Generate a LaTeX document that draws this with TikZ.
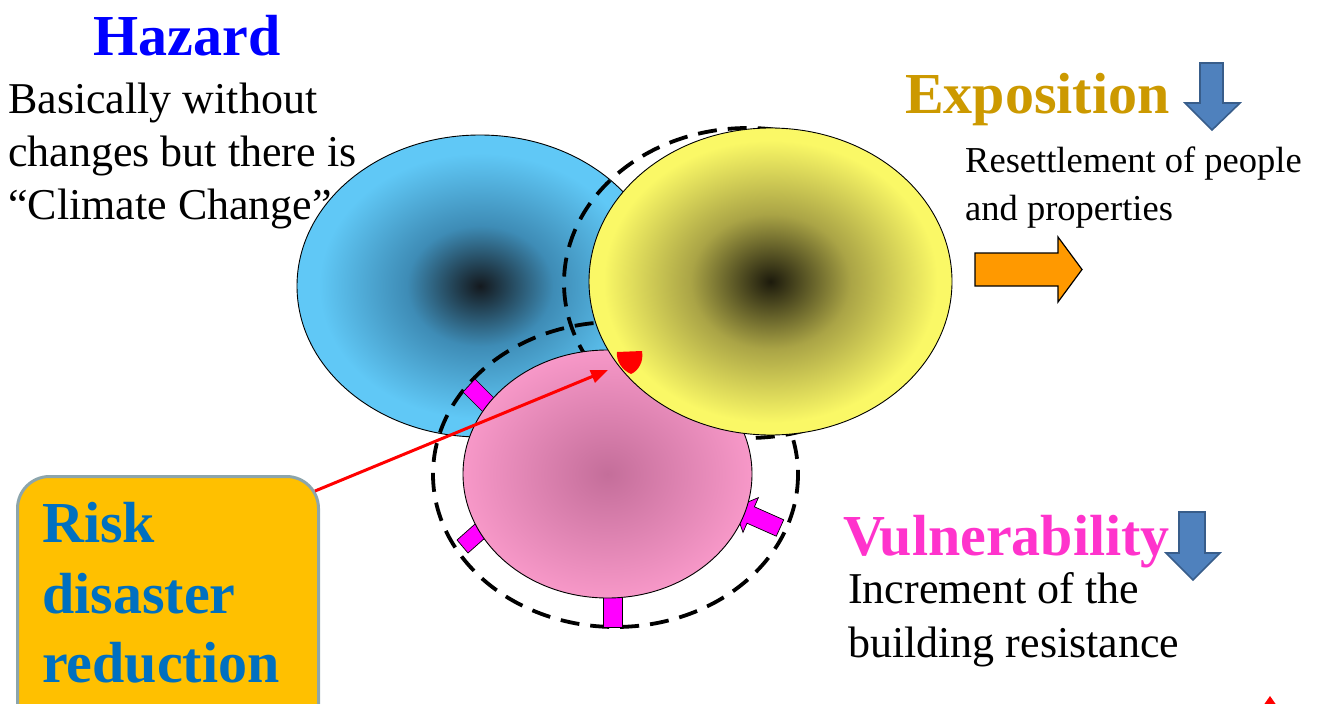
\documentclass[tikz,border=0pt]{standalone}
\usepackage{fontspec}
\setmainfont{Liberation Serif}
\usetikzlibrary{arrows.meta,shapes.geometric}

% text and line colours
\definecolor{hazardblue}{RGB}{0,0,255}
\definecolor{expogold}{RGB}{204,153,0}
\definecolor{vulnpink}{RGB}{255,51,204}
\definecolor{riskblue}{RGB}{0,112,192}
\definecolor{riskfill}{RGB}{255,192,0}
\definecolor{riskedge}{RGB}{140,165,172}
\definecolor{tabmagenta}{RGB}{255,0,255}
\definecolor{arrowblue}{RGB}{79,129,189}
\definecolor{arrowblueedge}{RGB}{56,93,138}
\definecolor{pushorange}{RGB}{255,153,0}

% gradient colours of the three circles
\definecolor{hzout}{RGB}{96,200,246}
\definecolor{hzmid}{RGB}{62,140,182}
\definecolor{hzin}{RGB}{20,25,30}
\definecolor{exout}{RGB}{250,248,102}
\definecolor{exmid}{RGB}{170,164,70}
\definecolor{exin}{RGB}{28,26,12}
\definecolor{vuout}{RGB}{247,152,200}
\definecolor{vuin}{RGB}{196,110,154}

\pgfdeclareradialshading{hazardglow}{\pgfpoint{0bp}{0bp}}{color(0bp)=(hzin); color(10bp)=(hzmid); color(22bp)=(hzout); color(50bp)=(hzout)}
\pgfdeclareradialshading{expoglow}{\pgfpoint{0bp}{0bp}}{color(0bp)=(exin); color(11bp)=(exmid); color(23bp)=(exout); color(50bp)=(exout)}
\pgfdeclareradialshading{vulnglow}{\pgfpoint{0bp}{0bp}}{color(0bp)=(vuin); color(25bp)=(vuout); color(50bp)=(vuout)}

\tikzset{
  blob/.style={ellipse, draw=black, line width=0.9pt, inner sep=0pt, shade},
  ring/.style={draw=black, line width=3.8pt, dash pattern=on 19pt off 11pt},
  tab/.style={fill=tabmagenta, draw=black, line width=0.7pt},
  title/.style={font=\fontsize{58}{60}\selectfont\bfseries, inner sep=0pt},
  bodytext/.style={font=\fontsize{44}{50}\selectfont, inner sep=0pt, anchor=base west},
  smalltext/.style={font=\fontsize{36.5}{40}\selectfont, inner sep=0pt, anchor=base west},
  risktext/.style={font=\fontsize{58}{60}\selectfont\bfseries, text=riskblue, inner sep=0pt, anchor=base west},
  downarrow/.style={fill=arrowblue, draw=arrowblueedge, line width=1.6pt, line join=miter},
  riskbox/.style={draw=riskedge, line width=3pt, fill=riskfill, rounded corners=32pt,
    minimum width=301pt, minimum height=262pt, anchor=north west, inner sep=0pt},
}

\begin{document}
\begin{tikzpicture}[x=1pt, y=-1pt]
\useasboundingbox (0,0) rectangle (1317,704);

% hazard heading and description
\node[title, text=hazardblue, anchor=base] (hzhead) at (187,55) {Hazard};
\node[bodytext] (hz1) at (8,113) {Basically without};
\node[bodytext] (hz2) at (8,166) {changes but there is};
\node[bodytext] (hz3) at (8,219) {“Climate Change”};

% hazard circle
\node[blob, shading=hazardglow, minimum width=366pt, minimum height=302pt] (hazard) at (480,286) {};

% dashed rings around exposition and vulnerability
\draw[ring] (748,283) ellipse [x radius=184, y radius=155];
\draw[ring] (615.5,474.5) ellipse [x radius=182.5, y radius=152.5];

% reinforcing tabs round the vulnerability circle
\draw[tab] (463,392) -- (475,379) -- (500,404) -- (488,417) -- cycle;
\draw[tab] (457,540) -- (468,553) -- (494,530) -- (483,517) -- cycle;
\draw[tab] (603,627) -- (622,627) -- (622,588) -- (603,588) -- cycle;
\draw[tab] (783.7,519.8) -- (754.4,506.8) -- (758.4,497.6) -- (734.3,507.7)
  -- (743.0,532.4) -- (747.0,523.2) -- (776.3,536.2) -- cycle;

% vulnerability and exposition circles
\node[blob, shading=vulnglow, minimum width=289pt, minimum height=248pt] (vuln) at (607.5,474) {};
\node[blob, shading=expoglow, minimum width=363pt, minimum height=307pt] (expo) at (770.5,281.5) {};

% the risk point where the three meet
\fill[red] (617,352) -- (642,351) .. controls (644,362) and (638,371) .. (631,374)
  .. controls (622,370) and (616,361) .. cycle;
\coordinate (aim) at (608,370);

% risk disaster reduction box
\node[riskbox] (box) at (16,475) {};
\node[risktext] (rk1) at (42,542) {Risk};
\node[risktext] (rk2) at (42,613) {disaster};
\node[risktext] (rk3) at (42,682) {reduction};
\coordinate (tail) at (315,491);
\draw[red, line width=3pt, -{Triangle[length=17pt,width=13pt]}] (tail) -- (aim);

% exposition heading
\node[title, text=expogold, anchor=base west] (exhead) at (905,113) {Exposition};
\draw[downarrow] (1200,63) -- (1223,63) -- (1223,103) -- (1240,103) -- (1212,130)
  -- (1185,103) -- (1200,103) -- cycle;
\node[smalltext] (ex1) at (965,172) {Resettlement of people};
\node[smalltext] (ex2) at (965,220) {and properties};
\draw[fill=pushorange, draw=black, line width=1.2pt, line join=miter]
  (975,253) -- (1058,253) -- (1058,237) -- (1082,269.5) -- (1058,302) -- (1058,286)
  -- (975,286) -- cycle;

% vulnerability heading
\node[title, text=vulnpink, anchor=base west] (vuhead) at (843,555) {Vulnerability};
\draw[downarrow] (1179,512) -- (1205,512) -- (1205,553) -- (1220,553) -- (1193,580)
  -- (1166,553) -- (1179,553) -- cycle;
\node[bodytext] (vu1) at (848,603) {Increment of the};
\node[bodytext] (vu2) at (848,657) {building resistance};

% small marker at the lower right corner
\fill[red] (1270,696) -- (1277,706) -- (1263,706) -- cycle;
\end{tikzpicture}
\end{document}
